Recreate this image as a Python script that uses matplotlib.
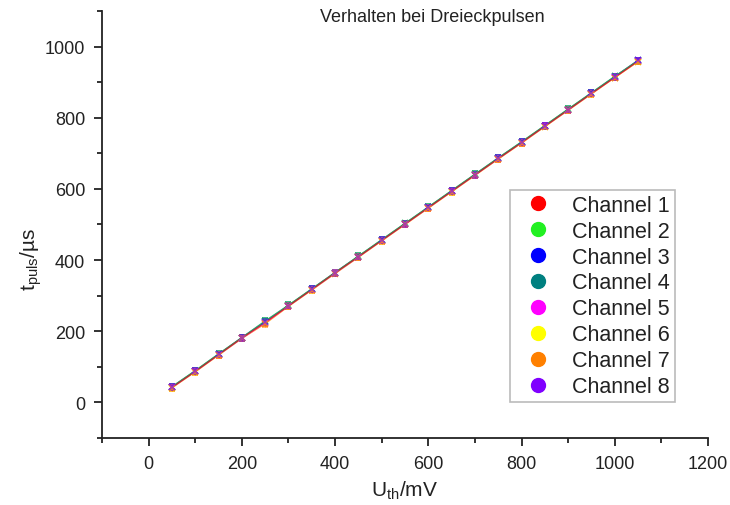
import matplotlib
matplotlib.use("Agg")
import matplotlib.pyplot as plt
from matplotlib.lines import Line2D
from matplotlib.ticker import MultipleLocator

plt.rcParams['font.family'] = ['Liberation Sans', 'DejaVu Sans']
plt.rcParams['mathtext.fontset'] = 'custom'
plt.rcParams['mathtext.rm'] = 'Liberation Sans'

# Threshold voltage U_th in mV
u_th = [50, 100, 150, 200, 250, 300, 350, 400, 450, 500, 550,
        600, 650, 700, 750, 800, 850, 900, 950, 1000, 1050]

# Pulse duration t_puls in µs per channel
ch1 = [42, 87, 134, 181, 224, 271, 317, 364, 409, 455, 501, 547, 593, 639, 685, 730, 776, 822, 868, 913, 959]
ch2 = [44, 89, 136, 182, 228, 273, 319, 365, 411, 457, 503, 549, 595, 641, 687, 732, 778, 824, 870, 916, 961]
ch3 = [43, 88, 135, 182, 227, 272, 318, 365, 410, 456, 502, 548, 594, 640, 686, 731, 777, 823, 869, 915, 961]
ch4 = [44, 89, 136, 182, 229, 273, 319, 365, 411, 457, 503, 549, 595, 641, 687, 732, 778, 824, 870, 916, 960]
ch5 = [42, 87, 134, 180, 223, 271, 317, 363, 409, 455, 501, 547, 593, 639, 685, 730, 776, 822, 868, 914, 959]
ch6 = [41, 86, 133, 180, 222, 270, 316, 363, 408, 454, 500, 546, 592, 638, 684, 729, 775, 821, 867, 913, 958]
ch7 = [41, 86, 133, 180, 221, 270, 316, 362, 408, 454, 500, 546, 592, 638, 684, 729, 775, 821, 867, 913, 958]
ch8 = [43, 88, 135, 181, 226, 272, 318, 364, 410, 456, 502, 548, 594, 640, 686, 731, 777, 823, 869, 915, 961]

# Measurement uncertainty in µs
t_err = [8, 8, 8, 8, 8, 8, 8, 8, 8, 8, 8, 8, 8, 8, 8, 8, 8, 8, 8, 8, 8]

channels = ['Channel 1', 'Channel 2', 'Channel 3', 'Channel 4',
            'Channel 5', 'Channel 6', 'Channel 7', 'Channel 8']
series = [ch1, ch2, ch3, ch4, ch5, ch6, ch7, ch8]
colors = ['#ff0000', '#22f022', '#0000ff', '#008080',
          '#ff00ff', '#ffff00', '#ff8000', '#8000ff']

fig = plt.figure(figsize=(7.3, 5.06), dpi=100)
ax = fig.add_axes([0.1397, 0.1324, 0.8301, 0.8439])

# connecting lines: last channel underneath, first channel on top
for vals, col in zip(series[::-1], colors[::-1]):
    ax.plot(u_th, vals, color=col, linewidth=1.0, alpha=0.6, zorder=2)

# symbols with error bars
for name, vals, col in zip(channels, series, colors):
    ax.errorbar(u_th, vals, yerr=t_err, color=col, marker='x', markersize=5,
                markeredgewidth=1.2, linestyle='none', elinewidth=0.8,
                capsize=2, alpha=0.6, label=name, zorder=3)

ax.set_xlim(-100, 1200)
ax.set_ylim(-100, 1100)
ax.xaxis.set_minor_locator(MultipleLocator(100))
ax.yaxis.set_minor_locator(MultipleLocator(100))
ax.set_xticks([0, 200, 400, 600, 800, 1000, 1200])
ax.set_yticks([0, 200, 400, 600, 800, 1000])

for side in ('top', 'right'):
    ax.spines[side].set_visible(False)
for side in ('left', 'bottom'):
    ax.spines[side].set_linewidth(1.3)
    ax.spines[side].set_color('#222222')

ax.tick_params(which='major', direction='out', length=6, width=1.3,
               labelsize=13, colors='#222222', pad=6)
ax.tick_params(which='minor', direction='out', length=3.5, width=1.3,
               colors='#222222')

ax.set_xlabel('U$_{\\mathregular{th}}$/mV', fontsize=15, color='#222222', labelpad=5)
ax.set_ylabel('t$_{\\mathregular{puls}}$/µs', fontsize=15, color='#222222')
ax.yaxis.set_label_coords(-0.095, 0.42)

fig.text(0.592, 0.965, 'Verhalten bei Dreieckpulsen', fontsize=13,
         ha='center', va='center', color='#222222')

handles = [Line2D([], [], linestyle='none', marker='o', markersize=10,
                  markerfacecolor=c, markeredgecolor=c) for c in colors]
leg = ax.legend(handles, channels, loc='lower right',
                bbox_to_anchor=(0.9455, 0.0843), fontsize=15.5,
                frameon=True, fancybox=False, labelspacing=0.23,
                handletextpad=0.5, handlelength=2.2, borderpad=0.22,
                borderaxespad=0)
leg.get_frame().set_edgecolor('#aaaaaa')
leg.get_frame().set_linewidth(1.2)
for t in leg.get_texts():
    t.set_color('#222222')

fig.savefig('out.png', dpi=100)
